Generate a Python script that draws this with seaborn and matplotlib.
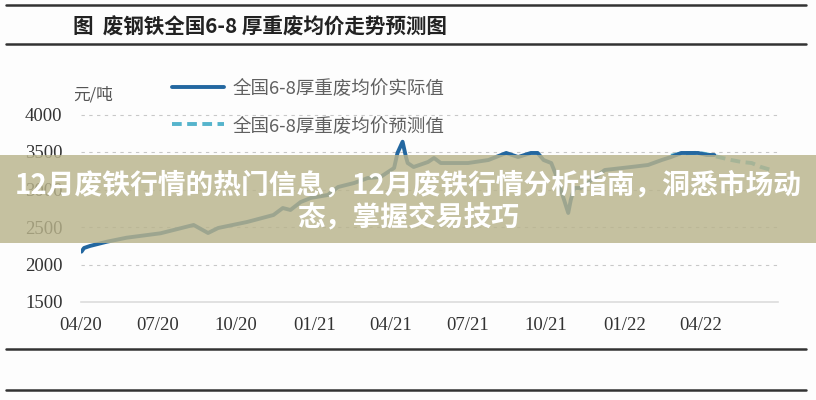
import pandas as pd
import matplotlib.pyplot as plt
import seaborn as sns
from matplotlib.lines import Line2D
from matplotlib.patches import Rectangle

# values (yuan / ton)
actual_dates = ["2020-04-02", "2020-04-05", "2020-04-12", "2020-05-02", "2020-05-25",
                "2020-07-04", "2020-08-12", "2020-08-29", "2020-09-10", "2020-10-14",
                "2020-11-14", "2020-11-25", "2020-12-04", "2020-12-16", "2020-12-28",
                "2021-01-17", "2021-01-29", "2021-02-17", "2021-03-05", "2021-03-20",
                "2021-04-05", "2021-04-09", "2021-04-15", "2021-04-19", "2021-04-21",
                "2021-04-28", "2021-05-15", "2021-05-22", "2021-05-30", "2021-07-01",
                "2021-07-25", "2021-08-09", "2021-08-15", "2021-08-29", "2021-09-13",
                "2021-09-21", "2021-09-28", "2021-10-07", "2021-10-15", "2021-10-21",
                "2021-10-27", "2021-10-30", "2021-11-03", "2021-11-11", "2021-12-09",
                "2022-01-09", "2022-01-29", "2022-02-14", "2022-02-25", "2022-03-09",
                "2022-03-29", "2022-04-08", "2022-04-17"]
actual_values = [2171, 2220, 2247, 2304, 2357,
                 2416, 2527, 2420, 2487, 2567,
                 2660, 2753, 2727, 2833, 2887,
                 2927, 3033, 3087, 3153, 3167,
                 3287, 3487, 3637, 3433, 3353,
                 3300, 3367, 3420, 3353, 3353,
                 3393, 3460, 3487, 3433, 3487,
                 3487, 3393, 3353, 3127, 2900,
                 2687, 2860, 3020, 3020, 3260,
                 3300, 3327, 3393, 3433, 3487,
                 3487, 3460, 3460]

forecast_dates = ["2022-02-25", "2022-03-09", "2022-03-29", "2022-04-08", "2022-04-22",
                  "2022-05-07", "2022-05-19", "2022-05-31", "2022-06-11", "2022-06-23"]
forecast_values = [3450, 3480, 3490, 3470, 3433,
                   3393, 3367, 3353, 3300, 3260]

y_ticks = [1500, 2000, 2500, 3000, 3500, 4000]
x_tick_dates = ["2020-04-01", "2020-07-01", "2020-10-01", "2021-01-01", "2021-04-01",
                "2021-07-01", "2021-10-01", "2022-01-01", "2022-04-01"]
x_tick_labels = ["04/20", "07/20", "10/20", "01/21", "04/21",
                 "07/21", "10/21", "01/22", "04/22"]

label_actual = "全国6-8厚重废均价实际值"
label_forecast = "全国6-8厚重废均价预测值"
title = "图  废钢铁全国6-8 厚重废均价走势预测图"
banner_1 = "12月废铁行情的热门信息，12月废铁行情分析指南，洞悉市场动"
banner_2 = "态，掌握交易技巧"

sns.set_style("white")
plt.rcParams['font.family'] = ['Noto Sans CJK SC', 'DejaVu Sans']

fig = plt.figure(figsize=(8.16, 4), dpi=100)
fig.patch.set_facecolor("#fdfdfd")
ax = fig.add_axes([0.0988, 0.245, 0.8547, 0.525])
ax.set_facecolor("#fdfdfd")

act = pd.DataFrame({"date": pd.to_datetime(actual_dates), "value": actual_values})
fc = pd.DataFrame({"date": pd.to_datetime(forecast_dates), "value": forecast_values})

sns.lineplot(data=fc, x="date", y="value", ax=ax, color="#55b4cc", lw=2.8,
             linestyle=(0, (2.5, 1.4)), label=label_forecast)
sns.lineplot(data=act, x="date", y="value", ax=ax, color="#2367a0", lw=2.8,
             label=label_actual)

ax.set_xlim(pd.Timestamp("2020-04-01"), pd.Timestamp("2022-07-01"))
ax.set_ylim(1500, 4300)
ax.set_yticks(y_ticks)
ax.set_xticks(pd.to_datetime(x_tick_dates))
ax.set_xticklabels(x_tick_labels)
ax.set_xlabel("")
ax.set_ylabel("")
ax.grid(axis="y", ls=(0, (3, 4)), color="#c8c8c8", lw=0.8)
for s in ["top", "right", "left"]:
    ax.spines[s].set_visible(False)
ax.spines["bottom"].set_color("#dcdcdc")
ax.spines["bottom"].set_linewidth(1.2)
ax.tick_params(length=0)
ax.tick_params(axis="x", pad=11)
ax.tick_params(axis="y", pad=13)
for t in ax.get_xticklabels() + ax.get_yticklabels():
    t.set_fontfamily("Liberation Serif")
    t.set_fontsize(13.5)
    t.set_color("#333333")

handles, labels = ax.get_legend_handles_labels()
order = [labels.index(label_actual), labels.index(label_forecast)]
leg = fig.legend([handles[i] for i in order], [labels[i] for i in order],
                 loc="upper left", bbox_to_anchor=(163 / 816, 1 - 70 / 400),
                 frameon=False, fontsize=13.3, handlelength=2.8, handletextpad=0.45,
                 labelspacing=1.05, borderpad=0)
for t in leg.get_texts():
    t.set_color("#606060")
if ax.legend_:
    ax.legend_.remove()

fig.text(73 / 816, 1 - 95 / 400, "元/吨", fontsize=12, color="#555555", va="center")
fig.text(73 / 816, 1 - 27 / 400, title, fontsize=14.8, fontweight="bold",
         color="#222222", va="center")

for yy in [5, 44, 349, 390]:
    fig.add_artist(Line2D([6 / 816, 806 / 816], [1 - yy / 400] * 2,
                          color="#333333", lw=1.8))

fig.add_artist(Rectangle((0, 1 - 243 / 400), 1, 88 / 400, transform=fig.transFigure,
                         facecolor="#b9b48c", alpha=0.82, edgecolor="none", zorder=10))
fig.text(0.5, 1 - 185 / 400, banner_1, fontsize=20, fontweight="bold", color="white",
         ha="center", va="center", zorder=11)
fig.text(0.5, 1 - 218 / 400, banner_2, fontsize=20, fontweight="bold", color="white",
         ha="center", va="center", zorder=11)

fig.savefig("out.png", dpi=100, facecolor=fig.get_facecolor())
